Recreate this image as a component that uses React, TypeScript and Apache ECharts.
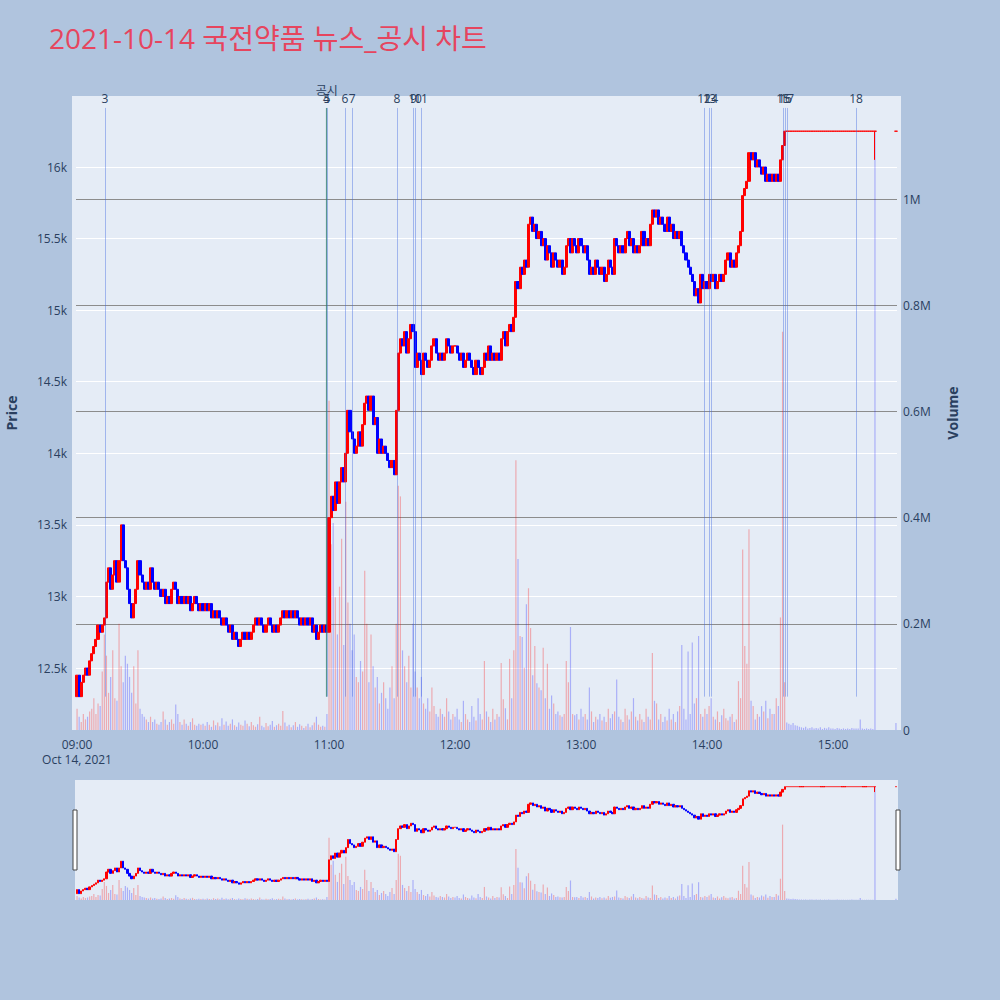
import { useEffect, useRef } from 'react';
import * as echarts from 'echarts';

// 1-minute closes (KRW), one array per hour
const close0900 = [
  12450, 12300, 12400, 12450, 12500, 12450, 12550, 12600, 12650, 12700,
  12800, 12750, 12800, 12850, 13100, 13200, 13050, 13150, 13250, 13100,
  13250, 13500, 13250, 13200, 13050, 12950, 12850, 12950, 13050, 13250,
  13150, 13100, 13050, 13100, 13050, 13200, 13100, 13050, 13100, 13050,
  13000, 13050, 12950, 13000, 12950, 13050, 13100, 13050, 12950, 13000,
  12950, 13000, 12950, 13000, 12900, 12950, 13000, 12950, 12900, 12950,
];
const close1000 = [
  12900, 12950, 12900, 12950, 12850, 12900, 12850, 12900, 12850, 12800,
  12850, 12800, 12750, 12800, 12700, 12750, 12700, 12650, 12700, 12750,
  12700, 12750, 12700, 12750, 12800, 12850, 12800, 12850, 12800, 12750,
  12800, 12850, 12800, 12750, 12800, 12750, 12800, 12850, 12900, 12850,
  12900, 12850, 12900, 12850, 12900, 12850, 12800, 12850, 12800, 12850,
  12800, 12850, 12750, 12800, 12700, 12750, 12800, 12750, 12800, 12750,
];
const close1100 = [
  13550, 13700, 13600, 13800, 13650, 13800, 13900, 13800, 14000, 14300,
  14150, 14100, 14000, 14050, 14150, 14050, 14200, 14350, 14400, 14300,
  14400, 14200, 14250, 14000, 14100, 14000, 14050, 14000, 13950, 13900,
  13950, 13850, 14300, 14700, 14800, 14750, 14850, 14700, 14800, 14900,
  14850, 14600, 14700, 14650, 14550, 14700, 14650, 14600, 14650, 14750,
  14800, 14700, 14650, 14700, 14650, 14700, 14800, 14750, 14700, 14750,
];
const close1200 = [
  14750, 14700, 14650, 14700, 14600, 14650, 14700, 14650, 14600, 14550,
  14650, 14600, 14550, 14600, 14700, 14650, 14750, 14650, 14700, 14650,
  14700, 14650, 14800, 14850, 14750, 14850, 14900, 14850, 14950, 15200,
  15150, 15300, 15250, 15350, 15300, 15600, 15650, 15550, 15600, 15500,
  15550, 15450, 15500, 15350, 15450, 15400, 15300, 15400, 15350, 15300,
  15350, 15250, 15300, 15450, 15500, 15400, 15500, 15450, 15400, 15500,
];
const close1300 = [
  15450, 15400, 15450, 15350, 15250, 15300, 15250, 15350, 15300, 15250,
  15300, 15200, 15250, 15350, 15300, 15250, 15500, 15450, 15400, 15450,
  15400, 15500, 15550, 15450, 15500, 15400, 15450, 15400, 15450, 15550,
  15450, 15500, 15450, 15600, 15700, 15650, 15700, 15600, 15650, 15600,
  15550, 15650, 15550, 15600, 15500, 15550, 15500, 15550, 15450, 15400,
  15350, 15300, 15250, 15200, 15100, 15150, 15050, 15250, 15150, 15200,
];
const close1400 = [
  15150, 15250, 15200, 15250, 15150, 15200, 15250, 15200, 15250, 15350,
  15400, 15300, 15350, 15300, 15400, 15450, 15550, 15800, 15850, 15900,
  16100, 16050, 16100, 16000, 16050, 16000, 15950, 16000, 15900, 15950,
  15900, 15950, 15900, 15950, 15900, 16050, 16150, 16250, 16250, 16250,
  16250, 16250, 16250, 16250, 16250, 16250, 16250, 16250, 16250, 16250,
  16250, 16250, 16250, 16250, 16250, 16250, 16250, 16250, 16250, 16250,
];
// 15:00 - 15:20
const close1500 = [
  16250, 16250, 16250, 16250, 16250, 16250, 16250, 16250, 16250, 16250,
  16250, 16250, 16250, 16250, 16250, 16250, 16250, 16250, 16250, 16250,
  16250,
];
const close1530 = 16250;
const firstOpen = 12300;
const wickLows = [{ time: '15:20', low: 16050 }];

// 1-minute volumes, thousands of shares
const vol0900 = [
  40, 25, 15, 30, 20, 25, 35, 40, 60, 30,
  50, 45, 110, 180, 140, 70, 100, 150, 60, 55,
  200, 120, 90, 140, 125, 100, 70, 120, 50, 150,
  40, 30, 25, 20, 15, 25, 15, 20, 12, 10,
  15, 35, 20, 10, 15, 20, 12, 48, 30, 15,
  10, 20, 12, 8, 15, 22, 10, 8, 12, 10,
];
const vol1000 = [
  12, 8, 15, 10, 6, 18, 9, 14, 7, 22,
  10, 16, 8, 12, 20, 9, 6, 14, 10, 8,
  18, 12, 7, 15, 9, 6, 11, 25, 8, 5,
  13, 7, 10, 17, 6, 9, 12, 8, 36, 14,
  7, 10, 5, 9, 15, 6, 11, 8, 4, 7,
  12, 5, 9, 14, 25, 10, 6, 8, 6, 30,
];
const vol1100 = [
  620, 350, 390, 250, 180, 270, 360, 160, 430, 240,
  200, 150, 180, 100, 90, 130, 110, 300, 200, 90,
  180, 120, 80, 100, 50, 70, 90, 60, 40, 80,
  120, 60, 200, 460, 440, 150, 120, 90, 140, 80,
  200, 110, 80, 60, 100, 50, 40, 60, 35, 80,
  45, 30, 25, 40, 30, 25, 60, 35, 20, 30,
];
const vol1200 = [
  25, 40, 20, 15, 55, 30, 20, 15, 45, 25,
  18, 60, 30, 20, 130, 35, 25, 15, 40, 20,
  30, 25, 126, 58, 41, 20, 134, 60, 150, 508,
  322, 177, 175, 117, 237, 267, 192, 103, 158, 88,
  80, 75, 155, 60, 125, 40, 65, 50, 30, 35,
  28, 25, 30, 130, 90, 194, 30, 28, 30, 20,
];
const vol1300 = [
  40, 25, 30, 20, 80, 35, 15, 25, 20, 30,
  18, 25, 15, 40, 22, 30, 35, 95, 25, 20,
  15, 40, 28, 20, 35, 60, 25, 18, 30, 20,
  15, 40, 25, 20, 145, 55, 50, 20, 30, 15,
  25, 18, 40, 20, 30, 15, 35, 45, 160, 40,
  20, 148, 30, 165, 50, 60, 177, 30, 25, 40,
];
const vol1400 = [
  30, 45, 60, 25, 20, 35, 15, 28, 40, 22,
  18, 25, 30, 15, 20, 92, 60, 340, 158, 125,
  378, 55, 45, 20, 30, 25, 45, 35, 55, 22,
  40, 30, 30, 60, 45, 212, 750, 90, 14, 12,
  10, 13, 9, 8, 6, 5, 4, 6, 3, 4,
  5, 3, 4, 3, 5, 2, 4, 3, 5, 3,
];
const vol1500 = [
  3, 2, 4, 3, 2, 3, 2, 3, 2, 4,
  3, 3, 3, 20, 3, 2, 3, 2, 3, 2,
  1126,
];
const vol1530 = 13;

const newsLabels = ['3', '4', '5', '6', '7', '8', '9', '10', '11', '12', '13', '14', '15', '16', '17', '18'];
const newsTimes = [
  '09:13:18', '10:58:48', '10:59:00', '11:07:36', '11:11:00', '11:32:24', '11:40:12', '11:41:00',
  '11:43:48', '13:58:36', '14:01:12', '14:02:00', '14:36:18', '14:37:06', '14:38:12', '15:11:00',
];
const disclosureLabel = '공시';
const disclosureTime = '10:58:54';

const priceTicks = [12500, 13000, 13500, 14000, 14500, 15000, 15500, 16000];
const volumeLabels = [0, 200000, 400000, 600000, 800000, 1000000];
const volumeGrid = [200000, 400000, 600000, 800000, 1000000];
const hourTicks = ['09:00', '10:00', '11:00', '12:00', '13:00', '14:00', '15:00'];

const UP = '#ff0000';
const DOWN = '#0000ff';
const UP_VOL = 'rgba(255, 0, 0, 0.28)';
const DOWN_VOL = 'rgba(0, 0, 255, 0.26)';
const INK = '#2a3f5f';
const FONT = "'Open Sans', 'Noto Sans CJK KR', sans-serif";

const toMin = (t: string) => {
  const [h, m, s] = t.split(':').map(Number);
  return h * 60 + m + (s || 0) / 60 - 540;
};
const hhmm = (v: number) => {
  const t = Math.round(v) + 540;
  return `${String(Math.floor(t / 60)).padStart(2, '0')}:${String(t % 60).padStart(2, '0')}`;
};

export default function App() {
  const chartRef = useRef<HTMLDivElement>(null);

  useEffect(() => {
    if (!chartRef.current) return;
    document.body.style.margin = '0';
    const chart = echarts.init(chartRef.current, null, { renderer: 'svg' });

    const closes = [...close0900, ...close1000, ...close1100, ...close1200, ...close1300, ...close1400, ...close1500, close1530];
    const vols = [...vol0900, ...vol1000, ...vol1100, ...vol1200, ...vol1300, ...vol1400, ...vol1500, vol1530];
    const lastRegular = close0900.length + close1000.length + close1100.length + close1200.length + close1300.length + close1400.length + close1500.length;
    const minutes = closes.map((_, i) => (i < lastRegular ? i : toMin('15:30')));

    const candles = closes.map((c, i) => {
      const o = i === 0 ? firstOpen : closes[i - 1];
      let low = Math.min(o, c);
      const high = Math.max(o, c);
      const w = wickLows.find(k => toMin(k.time) === minutes[i]);
      if (w) low = Math.min(low, w.low);
      return [minutes[i], o, c, low, high];
    });
    const volumeData = vols.map((v, i) => ({
      value: [minutes[i], v * 1000],
      itemStyle: { color: candles[i][2] > candles[i][1] ? UP_VOL : DOWN_VOL },
    }));

    const lineLow = Math.min(...candles.map(c => c[3]));
    const lineHigh = Math.max(...candles.map(c => c[4])) * 1.01;

    const newsLines: any[] = newsLabels.map((name, i) => [
      {
        name,
        coord: [toMin(newsTimes[i]), lineLow],
        lineStyle: { color: 'rgba(65, 105, 225, 0.42)', width: 1, type: 'solid' },
        label: { show: true, position: 'end', formatter: name, distance: 3, color: INK, fontSize: 12, fontFamily: FONT },
      },
      { coord: [toMin(newsTimes[i]), lineHigh] },
    ]);
    newsLines.push([
      {
        name: disclosureLabel,
        coord: [toMin(disclosureTime), lineLow],
        lineStyle: { color: 'rgba(40, 130, 80, 0.6)', width: 1.2, type: 'solid' },
        label: { show: true, position: 'end', formatter: disclosureLabel, distance: 11, color: INK, fontSize: 12, fontFamily: FONT },
      },
      { coord: [toMin(disclosureTime), lineHigh] },
    ]);

    const xRange = { min: -0.5, max: 390.5 };
    const priceRange = { min: 12067, max: 16496 };
    const volRange = { min: 0, max: 1194000 };
    const hourValues = hourTicks.map(toMin);

    const candleStyle = {
      color: UP,
      color0: DOWN,
      borderColor: UP,
      borderColor0: DOWN,
      borderColorDoji: UP,
      borderWidth: 1,
    };

    const option: echarts.EChartsOption = {
      animation: false,
      backgroundColor: '#b0c4de',
      textStyle: { fontFamily: FONT },
      title: {
        text: '2021-10-14 국전약품 뉴스_공시 차트',
        left: 44,
        top: 19,
        textStyle: { color: '#e6455e', fontSize: 28, fontWeight: 'normal', fontFamily: FONT },
      },
      graphic: [
        { type: 'rect', z: -10, shape: { x: 72, y: 96, width: 829, height: 634 }, style: { fill: '#e5ecf6' } },
        { type: 'rect', z: -10, shape: { x: 75, y: 780, width: 823, height: 120 }, style: { fill: '#e5ecf6' } },
        { type: 'rect', z: 10, shape: { x: 73, y: 810, width: 4, height: 60 }, style: { fill: '#fff', stroke: '#444', lineWidth: 1 } },
        { type: 'rect', z: 10, shape: { x: 896, y: 810, width: 4, height: 60 }, style: { fill: '#fff', stroke: '#444', lineWidth: 1 } },
      ],
      grid: [
        { left: 76, right: 103, top: 96, bottom: 270, outerBoundsMode: 'none' } as any,
        { left: 76, right: 103, top: 780, bottom: 100, outerBoundsMode: 'none' } as any,
      ],
      xAxis: [
        {
          type: 'value',
          gridIndex: 0,
          ...xRange,
          axisLine: { show: false },
          axisTick: { show: false, customValues: hourValues },
          splitLine: { show: false },
          axisLabel: {
            customValues: hourValues,
            color: INK,
            fontSize: 12,
            margin: 7,
            lineHeight: 15,
            formatter: (v: number) => (v === 0 ? `${hhmm(v)}\nOct 14, 2021` : hhmm(v)),
          },
        },
        {
          type: 'value',
          gridIndex: 1,
          ...xRange,
          show: false,
          splitLine: { show: false },
        },
      ],
      yAxis: [
        {
          type: 'value',
          gridIndex: 0,
          ...priceRange,
          name: 'Price',
          nameLocation: 'middle',
          nameGap: 58,
          nameTextStyle: { color: INK, fontSize: 14, fontWeight: 'bold' },
          axisLine: { show: false },
          axisTick: { show: false, customValues: priceTicks },
          axisLabel: {
            customValues: priceTicks,
            color: INK,
            fontSize: 12,
            margin: 9,
            formatter: (v: number) => `${v / 1000}k`,
          },
          splitLine: { show: true, lineStyle: { color: '#ffffff', width: 1 } },
        },
        {
          type: 'value',
          gridIndex: 0,
          position: 'right',
          ...volRange,
          name: 'Volume',
          nameLocation: 'middle',
          nameGap: 48,
          nameTextStyle: { color: INK, fontSize: 14, fontWeight: 'bold' },
          axisLine: { show: false },
          axisTick: { show: false, customValues: volumeGrid },
          axisLabel: {
            customValues: volumeLabels,
            color: INK,
            fontSize: 12,
            margin: 6,
            formatter: (v: number) => (v === 0 ? '0' : `${v / 1000000}M`),
          },
          splitLine: { show: true, lineStyle: { color: '#8c8c8c', width: 1 } },
        },
        { type: 'value', gridIndex: 1, ...priceRange, show: false, splitLine: { show: false } },
        { type: 'value', gridIndex: 1, ...volRange, show: false, splitLine: { show: false } },
      ],
      series: [
        {
          type: 'bar',
          name: 'Volume',
          xAxisIndex: 0,
          yAxisIndex: 1,
          barWidth: 1.2,
          data: volumeData,
        },
        {
          type: 'candlestick',
          name: 'Price',
          xAxisIndex: 0,
          yAxisIndex: 0,
          barWidth: 2.6,
          encode: { x: 0, y: [1, 2, 3, 4] },
          itemStyle: candleStyle,
          data: candles,
          markLine: {
            silent: true,
            symbol: ['none', 'none'],
            animation: false,
            data: newsLines,
          },
        },
        {
          type: 'bar',
          xAxisIndex: 1,
          yAxisIndex: 3,
          barWidth: 1.2,
          silent: true,
          data: volumeData,
        },
        {
          type: 'candlestick',
          xAxisIndex: 1,
          yAxisIndex: 2,
          barWidth: 1.8,
          silent: true,
          encode: { x: 0, y: [1, 2, 3, 4] },
          itemStyle: candleStyle,
          data: candles,
        },
      ],
    };

    chart.setOption(option);
    return () => chart.dispose();
  }, []);

  return <div ref={chartRef} style={{ width: 1000, height: 1000 }} />;
}
